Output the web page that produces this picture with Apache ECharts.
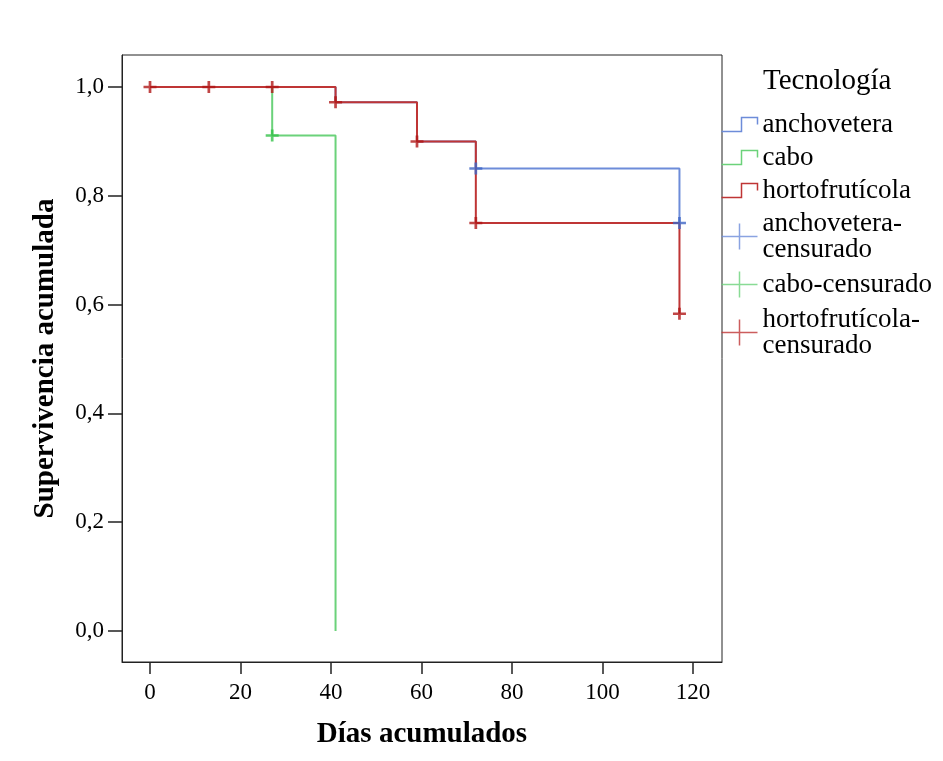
<!DOCTYPE html>
<html>
<head>
<meta charset="utf-8">
<script src="https://cdn.jsdelivr.net/npm/echarts@6/dist/echarts.min.js"></script>
<style>
html,body{margin:0;padding:0;background:#fff;}
#c{width:943px;height:761px;}
</style>
</head>
<body>
<div id="c"></div>
<script>
// ---- data (Kaplan-Meier steps) ----
const xTicks = [0, 20, 40, 60, 80, 100, 120];
const yTicks = [0, 0.2, 0.4, 0.6, 0.8, 1.0];

const anchoveteraSteps   = [[0, 1], [41, 0.972], [59, 0.900], [72, 0.850], [117, 0.750]];
const caboSteps          = [[0, 1], [27, 0.911], [41, 0]];
const hortofruticolaSteps= [[0, 1], [41, 0.972], [59, 0.900], [72, 0.750], [117, 0.583]];

const anchoveteraCens    = [[72, 0.850], [117, 0.750]];
const caboCens           = [[27, 0.911]];
const hortofruticolaCens = [[0, 1], [13, 1], [27, 1], [41, 0.972], [59, 0.900], [72, 0.750], [117, 0.583]];

const groupNames = ['anchovetera', 'cabo', 'hortofrutícola'];
const censNames  = ['anchovetera-censurado', 'cabo-censurado', 'hortofrutícola-censurado'];

// ---- styles ----
const FONT = '"Liberation Serif", "Times New Roman", serif';
const lineColors = ['#6d8cd9', '#6bd27a', '#bf3535'];
const markColors = ['#3f66c6', '#35c24a', '#b01818'];
const stepIcon = 'path://M0,14 L20,14 L20,0 L36,0 L36,7';
const plusIcon = 'path://M0,13 L36,13 M18,0 L18,26';
const plusMark = 'path://M0,6 L12,6 M6,0 L6,12';

const stepsList = [anchoveteraSteps, caboSteps, hortofruticolaSteps];
const censList = [anchoveteraCens, caboCens, hortofruticolaCens];

const series = [];
stepsList.forEach((d, i) => {
  series.push({
    name: groupNames[i], type: 'line', step: 'end', data: d,
    showSymbol: false, symbol: 'none', animation: false,
    lineStyle: { color: lineColors[i], width: 2 },
    itemStyle: { color: lineColors[i] },
    z: 2 + i
  });
});
censList.forEach((d, i) => {
  series.push({
    name: censNames[i], type: 'scatter', data: d, animation: false,
    symbol: plusMark, symbolSize: [13, 12],
    itemStyle: { color: 'none', borderColor: markColors[i], borderWidth: 2.6 },
    z: 6 + i
  });
});

const legendData = [];
groupNames.forEach((n, i) => legendData.push({
  name: n, icon: stepIcon,
  itemStyle: { color: 'none', borderColor: lineColors[i], borderWidth: 1.5 },
  lineStyle: { color: lineColors[i], width: 0 }
}));
censNames.forEach((n, i) => legendData.push({
  name: n, icon: plusIcon,
  itemStyle: { color: 'none', borderColor: lineColors[i], borderWidth: 1.5 }
}));

const chart = echarts.init(document.getElementById('c'), null, { renderer: 'canvas' });
chart.setOption({
  backgroundColor: '#fff',
  animation: false,
  title: {
    text: 'Tecnología', left: 763, top: 67, padding: 0,
    textStyle: { fontFamily: FONT, fontSize: 29, fontWeight: 'normal', color: '#000' }
  },
  legend: {
    orient: 'vertical', left: 719, top: 111, padding: 0,
    itemWidth: 36, itemHeight: 26, itemGap: 6,
    textStyle: { fontFamily: FONT, fontSize: 27, lineHeight: 26, color: '#000' },
    formatter: n => n.replace('anchovetera-', 'anchovetera-\n').replace('hortofrutícola-', 'hortofrutícola-\n'),
    data: legendData
  },
  grid: {
    left: 122, right: 221, top: 55, bottom: 99,
    show: true, borderColor: '#222', borderWidth: 1, backgroundColor: 'transparent'
  },
  xAxis: {
    type: 'value', min: -6.19, max: 126.4,
    name: 'Días acumulados', nameLocation: 'middle', nameGap: 58,
    nameTextStyle: { fontFamily: FONT, fontSize: 29, fontWeight: 'bold', color: '#000' },
    axisLine: { show: true, onZero: false, lineStyle: { color: '#222', width: 1 } },
    axisTick: { show: true, length: 12, lineStyle: { color: '#222', width: 1.5 }, customValues: xTicks },
    axisLabel: { fontFamily: FONT, fontSize: 23, color: '#000', margin: 19, customValues: xTicks },
    splitLine: { show: false }
  },
  yAxis: {
    type: 'value', min: -0.057, max: 1.0588,
    name: 'Supervivencia acumulada', nameLocation: 'middle', nameGap: 62,
    nameTextStyle: { fontFamily: FONT, fontSize: 29, fontWeight: 'bold', color: '#000' },
    axisLine: { show: true, onZero: false, lineStyle: { color: '#222', width: 1 } },
    axisTick: { show: true, length: 14, lineStyle: { color: '#222', width: 1.5 }, customValues: yTicks },
    axisLabel: { fontFamily: FONT, fontSize: 23, color: '#000', margin: 18, customValues: yTicks,
      formatter: v => v.toFixed(1).replace('.', ',') },
    splitLine: { show: false }
  },
  series: series
});
</script>
</body>
</html>
